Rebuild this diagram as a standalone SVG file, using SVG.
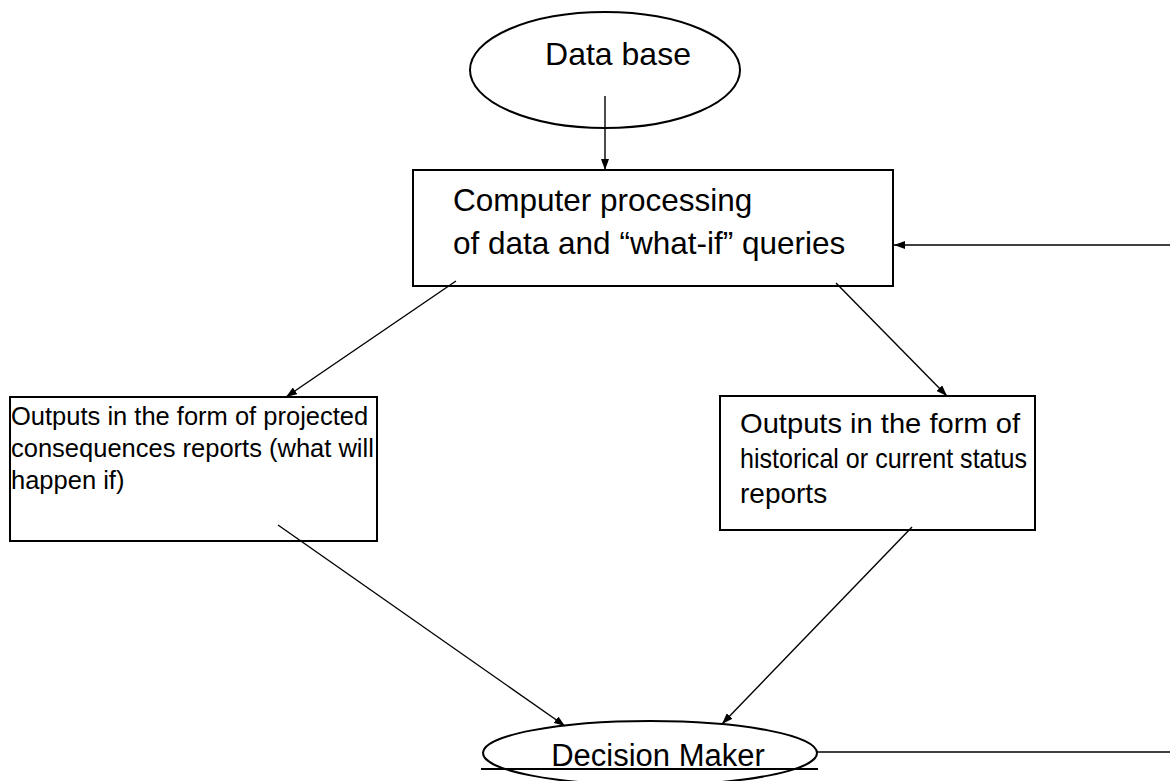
<svg xmlns="http://www.w3.org/2000/svg" width="1170" height="781" viewBox="0 0 1170 781">
<defs>
<marker id="ah" markerWidth="11" markerHeight="8" refX="11" refY="4" orient="auto" markerUnits="userSpaceOnUse">
<path d="M0,0 L11,4 L0,8 z" fill="#000"/>
</marker>
<style>
.shape{fill:#fff;stroke:#000;stroke-width:2}
.conn{stroke:#000;stroke-width:1.4;fill:none}
.t{font-family:"Liberation Sans",Arial,sans-serif;fill:#000}
</style>
</defs>
<rect width="1170" height="781" fill="#fff"/>
<g id="database">
<ellipse class="shape" cx="605" cy="70" rx="135" ry="58"/>
<text class="t" x="618" y="65" font-size="32" text-anchor="middle">Data base</text>
</g>
<g id="processing">
<rect class="shape" x="413" y="170" width="480" height="116"/>
<text class="t" font-size="31.5"><tspan x="453" y="211">Computer processing</tspan><tspan x="453" y="254">of data and “what-if” queries</tspan></text>
</g>
<g id="projected">
<rect class="shape" x="10" y="397" width="367" height="144"/>
<text class="t" font-size="25.5"><tspan x="11" y="425"> Outputs in the form of projected</tspan><tspan x="11" y="457">consequences reports (what will</tspan><tspan x="11" y="489">happen if)</tspan></text>
</g>
<g id="historical">
<rect class="shape" x="720" y="396" width="315" height="134"/>
<text class="t" font-size="28"><tspan x="740" y="433" textLength="280" lengthAdjust="spacingAndGlyphs">Outputs in the form of</tspan><tspan x="740" y="468" textLength="287" lengthAdjust="spacingAndGlyphs">historical or current status</tspan><tspan x="740" y="503">reports</tspan></text>
</g>
<g id="decision">
<ellipse class="shape" cx="650" cy="753" rx="167" ry="32"/>
<text class="t" x="658" y="766" font-size="31" text-anchor="middle">Decision Maker</text>
<line x1="481" y1="769" x2="818" y2="769" stroke="#000" stroke-width="2"/>
</g>
<g id="connectors">
<line class="conn" x1="605" y1="96" x2="605" y2="170" marker-end="url(#ah)"/>
<line class="conn" x1="1170" y1="245" x2="894" y2="245" marker-end="url(#ah)"/>
<line class="conn" x1="456" y1="281" x2="286" y2="397" marker-end="url(#ah)"/>
<line class="conn" x1="836" y1="283" x2="947" y2="396" marker-end="url(#ah)"/>
<line class="conn" x1="278" y1="525" x2="565" y2="726" marker-end="url(#ah)"/>
<line class="conn" x1="912" y1="527" x2="722" y2="724" marker-end="url(#ah)"/>
<line class="conn" x1="817" y1="752" x2="1170" y2="752"/>
</g>
</svg>
